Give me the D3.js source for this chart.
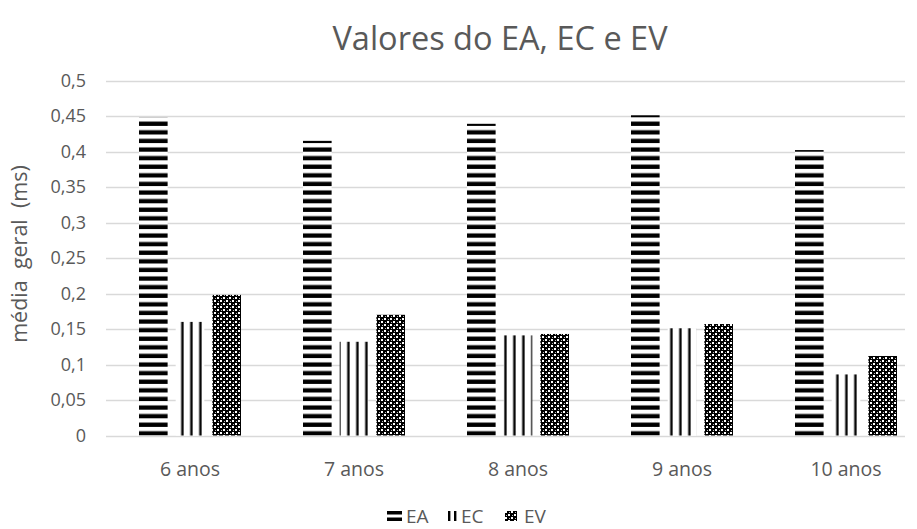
<!DOCTYPE html>
<html><head><meta charset="utf-8">
<script src="https://cdn.jsdelivr.net/npm/d3@7"></script>
<style>
html,body{margin:0;padding:0;background:#fff;}
svg{display:block;font-family:"Open Sans",sans-serif;}
</style></head>
<body>
<svg id="chart" width="917" height="529"></svg>
<script>
const categories = ["6 anos","7 anos","8 anos","9 anos","10 anos"];
const seriesNames = ["EA","EC","EV"];
const EA = [0.448,0.415,0.439,0.451,0.402];
const EC = [0.160,0.132,0.141,0.151,0.086];
const EV = [0.198,0.170,0.143,0.157,0.112];
const yTicks = [0,0.05,0.1,0.15,0.2,0.25,0.3,0.35,0.4,0.45,0.5];
const title = "Valores do EA, EC e EV";
const yTitle = "média  geral  (ms)";

const seriesValues = {EA, EC, EV};
const svg = d3.select("#chart");
const plotL = 106, plotR = 905, y0 = 435.5, y1 = 80.5;

const y = d3.scaleLinear().domain([0,0.5]).range([y0,y1]);
const x0 = d3.scaleBand().domain(categories).range([108, 928]);
const x1 = d3.scaleBand().domain(seriesNames).range([-51,51]).paddingInner(0.22);
const fmt = d => String(+d.toFixed(2)).replace(".", ",");
const grey = "#595959";

const defs = svg.append("defs");
// EA: horizontal stripes
const pEA = defs.append("pattern").attr("id","pEA").attr("patternUnits","userSpaceOnUse")
  .attr("width",10).attr("height",8.6).attr("y",y0);
pEA.append("rect").attr("width",10).attr("height",8.6).attr("fill","#fff");
pEA.append("rect").attr("y",4.3).attr("width",10).attr("height",4.3).attr("fill","#000");
// EV: cross/confetti pattern
const pEV = defs.append("pattern").attr("id","pEV").attr("patternUnits","userSpaceOnUse")
  .attr("width",6).attr("height",6);
pEV.append("rect").attr("width",6).attr("height",6).attr("fill","#000");
pEV.append("rect").attr("x",0).attr("y",0).attr("width",2).attr("height",2).attr("fill","#fff");
pEV.append("rect").attr("x",3).attr("y",3).attr("width",2).attr("height",2).attr("fill","#fff");
pEV.append("rect").attr("x",4).attr("y",1).attr("width",1).attr("height",1).attr("fill","#bbb");
pEV.append("rect").attr("x",1).attr("y",4).attr("width",1).attr("height",1).attr("fill","#bbb");

// EC: vertical lines, one pattern per category aligned to bar
categories.forEach((c,i) => {
  const bx = x0(c) + x0.bandwidth()/2 + x1("EC");
  const p = defs.append("pattern").attr("id","pEC"+i).attr("patternUnits","userSpaceOnUse")
    .attr("x",bx).attr("width",9).attr("height",10);
  p.append("rect").attr("width",9).attr("height",10).attr("fill","#fff");
  p.append("rect").attr("x",4.5).attr("width",2.4).attr("height",10).attr("fill","#000");
});

// gridlines
svg.append("g").selectAll("line").data(yTicks).join("line")
  .attr("x1",plotL).attr("x2",plotR)
  .attr("y1",d=>Math.round(y(d))+0.5).attr("y2",d=>Math.round(y(d))+0.5)
  .attr("stroke","#d9d9d9").attr("stroke-width",1.3);

// y tick labels
svg.append("g").selectAll("text").data(yTicks).join("text")
  .attr("x",86).attr("y",d=>y(d)).attr("dy","0.36em")
  .attr("text-anchor","end").attr("fill",grey).attr("font-size",18)
  .text(fmt);

// bars
const fillFor = (s,i) => s==="EA" ? "url(#pEA)" : s==="EV" ? "url(#pEV)" : "url(#pEC"+i+")";
const groups = svg.append("g").selectAll("g").data(categories).join("g")
  .attr("transform", c => `translate(${x0(c)+x0.bandwidth()/2},0)`);
groups.selectAll("rect").data((c,i)=>seriesNames.map(s=>({s,i,v:seriesValues[s][i]}))).join("rect")
  .attr("x",d=>x1(d.s)).attr("width",x1.bandwidth())
  .attr("y",d=>y(d.v)).attr("height",d=>y0-y(d.v))
  .attr("fill",d=>fillFor(d.s,d.i));

// x labels
svg.append("g").selectAll("text").data(categories).join("text")
  .attr("x",c=>x0(c)+x0.bandwidth()/2).attr("y",476)
  .attr("text-anchor","middle").attr("fill",grey).attr("font-size",19.5)
  .text(c=>c);

// title
svg.append("text").attr("x",500).attr("y",50).attr("text-anchor","middle")
  .attr("fill",grey).attr("font-size",32.5).text(title);

// y title
svg.append("text").attr("transform","translate(27,254) rotate(-90)")
  .attr("text-anchor","middle").attr("fill",grey).attr("font-size",21.5)
  .style("white-space","pre").text(yTitle);

// legend
const legX = [387, 446, 505];
const leg = svg.append("g").selectAll("g").data(seriesNames).join("g")
  .attr("transform",(d,i)=>`translate(${legX[i]},511)`);
leg.each(function(s,i){
  const g = d3.select(this);
  if (s==="EA") {
    g.append("rect").attr("x",0).attr("y",0).attr("width",15).attr("height",3.5).attr("fill","#000");
    g.append("rect").attr("x",0).attr("y",6.5).attr("width",15).attr("height",3.5).attr("fill","#000");
  } else if (s==="EC") {
    g.append("rect").attr("x",2).attr("y",0).attr("width",2.4).attr("height",10).attr("fill","#000");
    g.append("rect").attr("x",8).attr("y",0).attr("width",2.4).attr("height",10).attr("fill","#000");
  } else {
    g.append("rect").attr("x",0).attr("y",0).attr("width",12).attr("height",10).attr("fill","url(#pEV)");
  }
  g.append("text").attr("x", s==="EC"?15:19).attr("y",5).attr("dy","0.36em")
    .attr("fill",grey).attr("font-size",19).text(s);
});
</script>
</body></html>
